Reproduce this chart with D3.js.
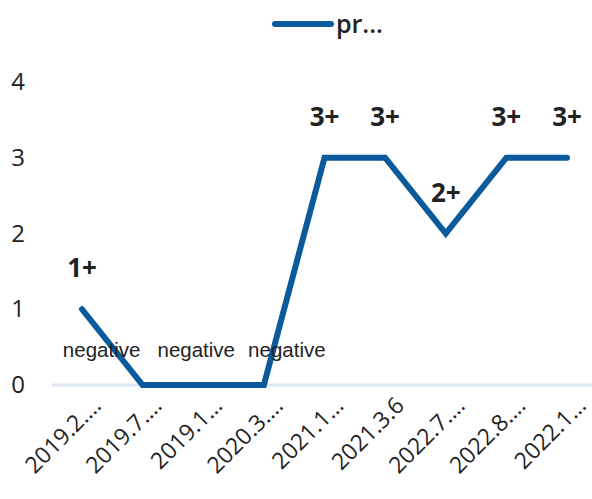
<!DOCTYPE html>
<html><head><meta charset="utf-8">
<script src="https://cdn.jsdelivr.net/npm/d3@7"></script>
<style>body{margin:0;background:#fff}</style>
</head><body><svg id="c" width="592" height="499"></svg>
<script>
const categories = ["2019.2.…","2019.7.…","2019.1…","2020.3.…","2021.1…","2021.3.6","2022.7.…","2022.8.…","2022.1…"];
const values = [1,0,0,0,3,3,2,3,3];
const pointLabels = ["1+","negative","negative","negative","3+","3+","2+","3+","3+"];
const yTicks = [0,1,2,3,4];
const seriesName = "pr...";

const svg = d3.select("#c");
const x = d3.scalePoint().domain(categories).range([82,567]);
const y = d3.scaleLinear().domain([0,4]).range([385,82]);
const color = "#0b5a9b";

// baseline gridline
svg.append("line").attr("x1",52).attr("x2",592).attr("y1",y(0)).attr("y2",y(0))
  .attr("stroke","#dde6ee").attr("stroke-width",3);

// y axis labels
const yAxis = d3.axisLeft(y).tickValues(yTicks).tickSize(0).tickPadding(0).tickFormat(d3.format("d"));
const gy = svg.append("g").attr("transform","translate(26,0)").call(yAxis);
gy.select(".domain").remove();
gy.selectAll("text").attr("font-family","Open Sans").attr("font-size",24).attr("fill","#222").attr("text-anchor","middle").attr("dx",-8);

// x axis labels
const xAxis = d3.axisBottom(x).tickSize(0).tickPadding(0);
const gx = svg.append("g").attr("transform","translate(0,"+y(0)+")").call(xAxis);
gx.select(".domain").remove();
gx.selectAll("text").attr("font-family","Open Sans").attr("font-size",23).attr("fill","#222")
  .attr("text-anchor","end").attr("dy",0)
  .attr("transform","translate(20,22) rotate(-45)");

// line
const line = d3.line().x((d,i)=>x(categories[i])).y(d=>y(d)).curve(d3.curveLinear);
svg.append("path").datum(values).attr("d",line).attr("fill","none")
  .attr("stroke",color).attr("stroke-width",6).attr("stroke-linejoin","miter").attr("stroke-linecap","round");

// data labels
const negDx = {1:-41, 2:-7, 3:23};
values.forEach((v,i)=>{
  const lab = pointLabels[i];
  if (lab === "negative") {
    svg.append("text").attr("x",x(categories[i])+negDx[i]).attr("y",357)
      .attr("text-anchor","middle").attr("font-family","Liberation Sans").attr("font-size",20.5)
      .attr("fill","#222").text(lab);
  } else {
    svg.append("text").attr("x",x(categories[i])).attr("y",y(v)-32)
      .attr("text-anchor","middle").attr("font-family","Open Sans").attr("font-weight","bold")
      .attr("font-size",26).attr("fill","#222").text(lab);
  }
});

// legend
svg.append("line").attr("x1",275).attr("x2",331).attr("y1",24).attr("y2",24)
  .attr("stroke",color).attr("stroke-width",6).attr("stroke-linecap","round");
svg.append("text").attr("x",336).attr("y",33).attr("font-family","Open Sans").attr("font-weight",600)
  .attr("font-size",25).attr("fill","#222").text(seriesName);
</script></body></html>
